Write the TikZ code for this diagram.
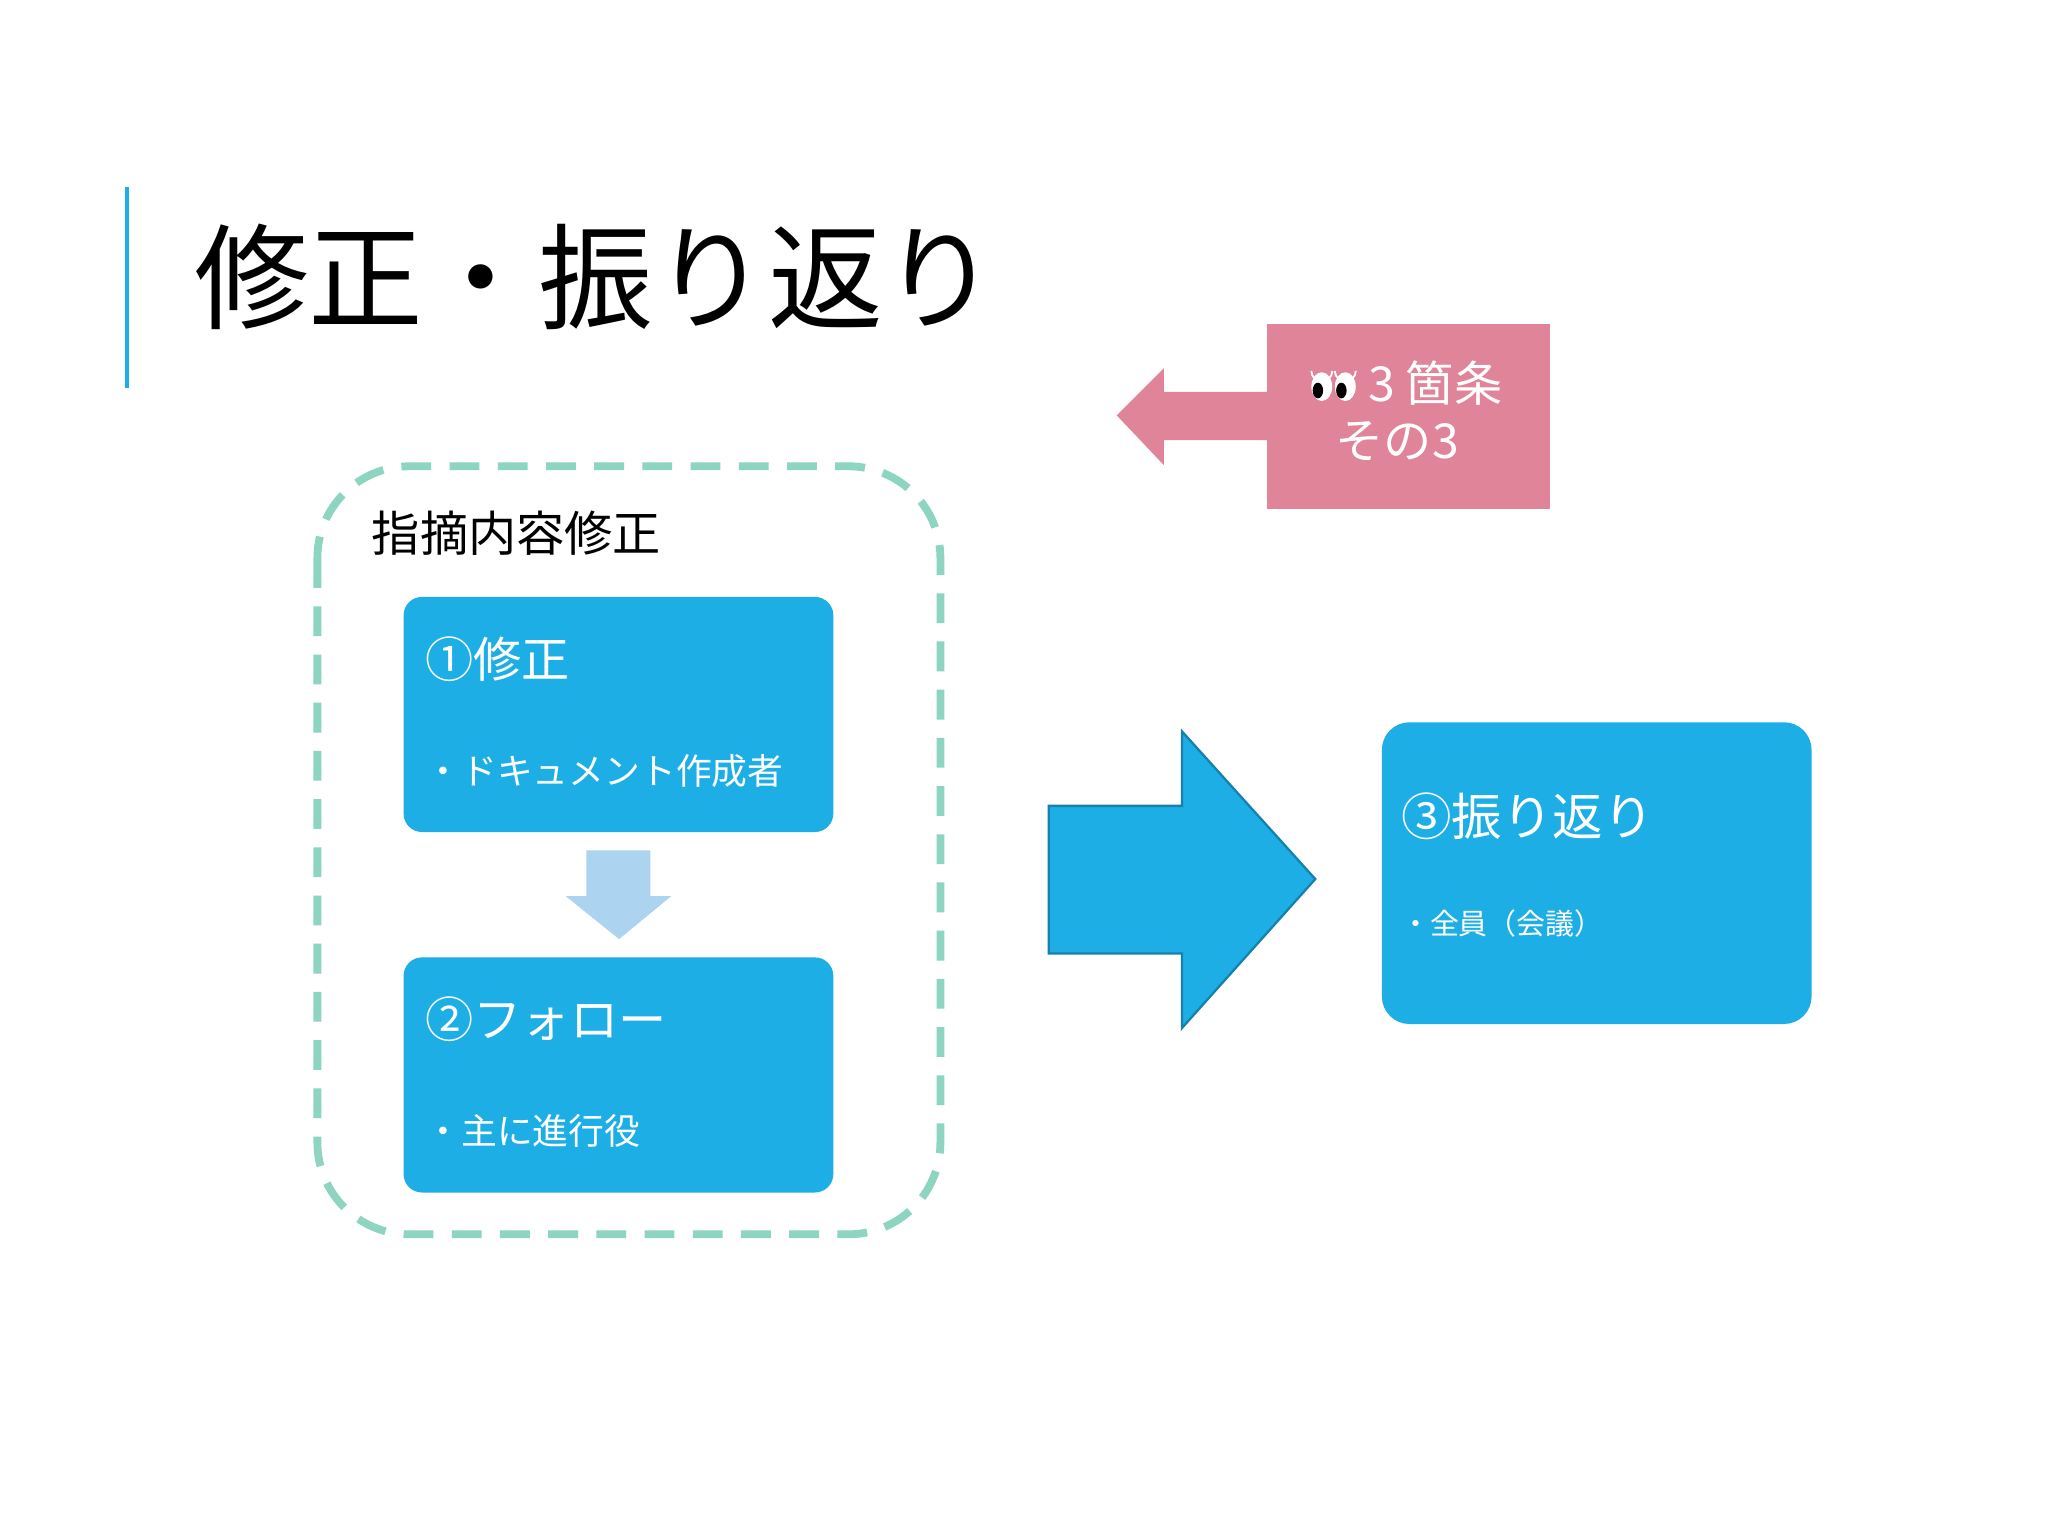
\documentclass[tikz,border=0pt]{standalone}
\usepackage{fontspec}
\setmainfont{Noto Sans CJK JP}
\begin{document}
\begin{tikzpicture}[x=0.1mm,y=-0.1mm,
  box/.style={fill=boxblue,rounded corners=4pt},
  t/.style={anchor=west,inner sep=0,text=#1},
  t/.default=white]
\definecolor{boxblue}{HTML}{1EAEE6}
\definecolor{pinkc}{HTML}{E0849A}
\definecolor{dashc}{HTML}{8DD5C0}
\definecolor{lblue}{HTML}{ACD4F0}
\useasboundingbox (0,0) rectangle (1568,1176);
\fill[white] (0,0) rectangle (1568,1176);
% title
\draw[line width=0.9pt,color=boxblue] (97,143) -- (97,297);
\node[t=black,font=\fontsize{25pt}{28pt}\selectfont] (title) at (148,212) {修正・振り返り};
% pink box and arrow
\fill[pinkc] (970,248) rectangle (1187,390);
\fill[pinkc] (855,318) -- (891,282) -- (891,300) -- (972,300) -- (972,337) -- (891,337) -- (891,356) -- cycle;
\foreach \ex in {1012,1030}{
  \fill[white] (\ex,296) ellipse [x radius=8, y radius=11];
  \fill[black] (\ex-3,299) ellipse [x radius=4, y radius=6];
  \draw[white,line width=0.4pt] (\ex-8,284) arc[start angle=180,end angle=0,radius=8];
}
\node[t,font=\fontsize{10.5pt}{12pt}\selectfont] (p1) at (1047,293) {3 箇条};
\node[t,font=\fontsize{10.5pt}{12pt}\selectfont] (p2) at (1022,338) {その3};
% dashed group
\draw[dashc,line width=1.7pt,dash pattern=on 6.5pt off 4pt,rounded corners=20pt] (243,357) rectangle (720,945);
\node[t=black,font=\fontsize{10.5pt}{12pt}\selectfont] (grp) at (284,408) {指摘内容修正};
% boxes
\fill[box] (309,457) rectangle (638,637);
\node[t,font=\fontsize{10.5pt}{12pt}\selectfont] (b1) at (325,505) {①修正};
\node[t,font=\fontsize{7.8pt}{9pt}\selectfont] (b1s) at (325,590) {・ドキュメント作成者};
\fill[lblue] (449,651) -- (498,651) -- (498,686) -- (514,686) -- (474,719) -- (433,686) -- (449,686) -- cycle;
\fill[box] (309,733) rectangle (638,913);
\node[t,font=\fontsize{10.5pt}{12pt}\selectfont] (b2) at (325,780) {②フォロー};
\node[t,font=\fontsize{7.8pt}{9pt}\selectfont] (b2s) at (325,866) {・主に進行役};
% big arrow
\filldraw[fill=boxblue,draw=boxblue!75!black,line width=0.5pt] (803,617) -- (905,617) -- (905,560) -- (1007,673) -- (905,787) -- (905,730) -- (803,730) -- cycle;
\fill[box,rounded corners=6pt] (1058,553) rectangle (1387,784);
\node[t,font=\fontsize{11pt}{13pt}\selectfont] (b3) at (1072,625) {③振り返り};
\node[t,font=\fontsize{6.3pt}{8pt}\selectfont] (b3s) at (1072,707) {・全員（会議）};
\end{tikzpicture}
\end{document}
